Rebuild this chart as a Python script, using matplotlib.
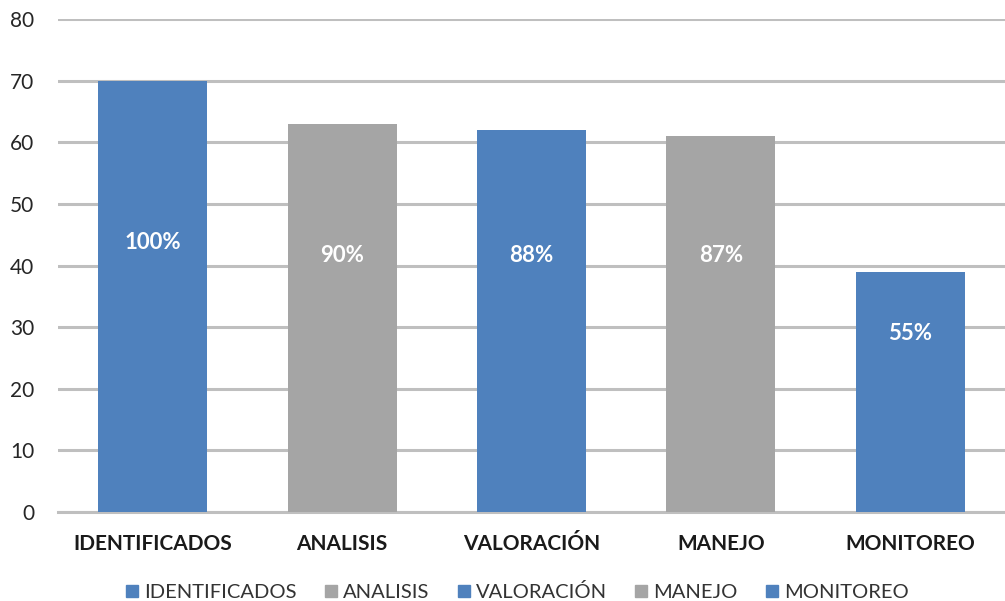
import matplotlib.pyplot as plt
import numpy as np
from matplotlib.patches import Patch

categories = ["IDENTIFICADOS", "ANALISIS", "VALORACIÓN", "MANEJO", "MONITOREO"]
values = [70, 63, 62, 61, 39]
pct_labels = ["100%", "90%", "88%", "87%", "55%"]
label_y = [43.7, 41.7, 41.7, 41.7, 29]

BLUE = "#4f81bd"
GRAY = "#a5a5a5"
colors = [BLUE, GRAY, BLUE, GRAY, BLUE]


def run():
  fig = plt.figure(figsize=(10.05, 6.01), dpi=100)
  ax = fig.add_axes([58 / 1005, 1 - 512 / 601, (1005 - 58) / 1005, 493 / 601])

  x = np.arange(len(categories))
  ax.bar(x, values, width=0.575, color=colors, zorder=3)

  for i in range(len(x)):
    ax.text(x[i], label_y[i], pct_labels[i], ha="center", va="center",
            color="white", fontsize=16, fontweight="bold", family="Lato", zorder=4)

  ax.set_ylim(0, 80)
  ax.set_xlim(-0.5, 4.5)
  ax.set_yticks(np.arange(0, 81, 10))
  ax.yaxis.grid(True, color="#bfbfbf", linewidth=2.2, zorder=0)
  for s in ["top", "right", "left"]:
    ax.spines[s].set_visible(False)
  ax.spines["bottom"].set_color("#bfbfbf")
  ax.spines["bottom"].set_linewidth(2.2)
  ax.tick_params(axis="y", length=0, pad=17, labelsize=15, labelcolor="#262626")
  ax.tick_params(axis="x", length=0, pad=16)
  for t in ax.get_yticklabels():
    t.set_family("Lato")
  ax.set_xticks(x)
  ax.set_xticklabels(categories, fontsize=15, fontweight="bold", family="Lato",
                     color="#1a1a1a")

  handles = [Patch(color=colors[i], label=categories[i]) for i in range(len(categories))]
  fig.legend(handles=handles, loc="center", bbox_to_anchor=(0.515, 1 - 592 / 601),
             ncol=5, frameon=False, prop={"family": "Lato", "size": 14.5},
             handlelength=0.6, handleheight=0.6, handletextpad=0.3, columnspacing=1.4,
             labelcolor="#333333")

  plt.savefig("out.png", dpi=100)


if __name__ == "__main__":
  run()
